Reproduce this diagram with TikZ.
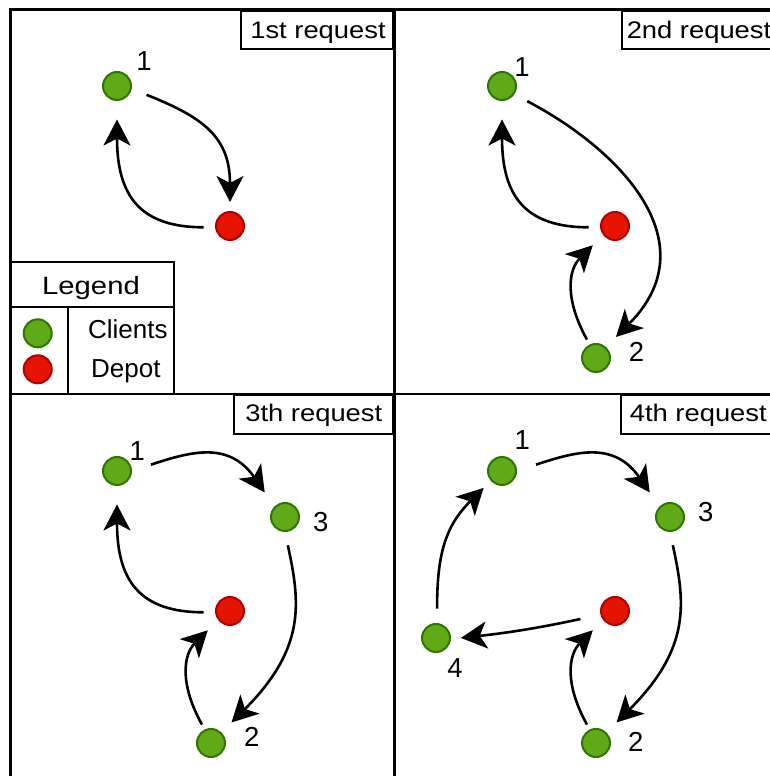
\documentclass[tikz,border=0pt]{standalone}
\usepackage{fontspec}
\setmainfont{Liberation Sans}
\newfontfamily\widesans[FakeStretch=1.14]{Liberation Sans}
\newfontfamily\widersans[FakeStretch=1.17]{Liberation Sans}
\usetikzlibrary{arrows.meta}

\definecolor{clientfill}{HTML}{60A917}
\definecolor{clientline}{HTML}{2D7600}
\definecolor{depotfill}{HTML}{E51400}
\definecolor{depotline}{HTML}{B20000}

\tikzset{
  client/.style={circle, fill=clientfill, draw=clientline, line width=2pt,
    minimum size=28pt, inner sep=0pt},
  depot/.style={circle, fill=depotfill, draw=depotline, line width=2pt,
    minimum size=28pt, inner sep=0pt},
  num/.style={font=\fontsize{27.5}{30}\selectfont, inner sep=0pt},
  panel/.style={draw=black, line width=2.5pt},
  titlebox/.style={draw=black, fill=white, line width=2.2pt, inner sep=0pt},
  titletext/.style={font=\widesans\fontsize{24}{28}\selectfont, inner sep=0pt, anchor=base},
  legendtext/.style={font=\fontsize{26}{30}\selectfont, inner sep=0pt, anchor=base},
  legendline/.style={draw=black, line width=2.2pt},
  tipshape/.tip={Stealth[length=26pt 0, width=27pt 0, inset=7pt 0]},
  route/.style={line width=2.6pt, -tipshape},
}

\begin{document}
\begin{tikzpicture}[x=1pt, y=1pt]
\useasboundingbox (0,0) rectangle (770,776);
\clip (0,0) rectangle (770,776);

% four panels
\path[panel] (10.5,382) rectangle (394.5,766.5);
\path[panel] (394.5,382) rectangle (790,766.5);
\path[panel] (10.5,-10) rectangle (394.5,382);
\path[panel] (394.5,-10) rectangle (790,382);

% panel titles
\node[titlebox, minimum width=152.5pt, minimum height=38.5pt, anchor=north east] (t1) at (394.5,766.5) {};
\node[titletext] (t1txt) at (318,737.7) {1st request};
\node[titlebox, minimum width=157pt, minimum height=38.5pt, anchor=north west] (t2) at (620.7,766.5) {};
\node[titletext] (t2txt) at (699,737.7) {2nd request};
\node[titlebox, minimum width=159.5pt, minimum height=39.3pt, anchor=north east] (t3) at (394.5,382) {};
\node[titletext] (t3txt) at (313.8,354.3) {3th request};
\node[titlebox, minimum width=160pt, minimum height=39.3pt, anchor=north west] (t4) at (620,382) {};
\node[titletext] (t4txt) at (698.3,354.3) {4th request};

% legend
\path[legendline, fill=white] (10.5,469.3) rectangle (174,514.3);
\path[legendline, fill=white] (10.5,382) rectangle (174,469.3);
\path[legendline] (68.3,469.3) -- (68.3,382);
\node[legendtext, font=\widersans\fontsize{25}{30}\selectfont] (lgtitle) at (91,481.7) {Legend};
\node[client] (lgclient) at (37.7,442.7) {};
\node[depot] (lgdepot) at (37.7,406.7) {};
\node[legendtext] (lgclienttxt) at (127.8,437.7) {Clients};
\node[legendtext] (lgdepottxt) at (125.8,398.3) {Depot};

% ---------- 1st request ----------
\node[client] (a1) at (117,690) {};
\node[depot]  (ad) at (230,550) {};
\node[num] (a1l) at (144,715) {1};
\draw[route, shorten <=16pt, shorten >=9pt] (a1.-11) .. controls +(70,-28) and +(0,75) .. (ad.90);
\draw[route, shorten <=11.5pt, shorten >=18.5pt] (ad.185) .. controls +(-75,0) and +(0,-95) .. (a1.-90);

% ---------- 2nd request ----------
\node[client] (b1) at (502,690) {};
\node[depot]  (bd) at (615,550) {};
\node[client] (b2) at (596,418) {};
\node[num] (b1l) at (522,709) {1};
\node[num] (b2l) at (636.5,424) {2};
\draw[route, shorten <=14.5pt, shorten >=14pt] (b1.-34) .. controls +(110,-58) and +(102,102) .. (b2.48);
\draw[route, shorten <=11.5pt, shorten >=18.5pt] (bd.185) .. controls +(-75,0) and +(0,-95) .. (b1.-90);
\draw[route, shorten <=5.5pt, shorten >=14.5pt] (b2.115) .. controls +(-25,45) and +(-35,-35) .. (bd.217);

% ---------- 3rd request ----------
\node[client] (c1) at (117,305) {};
\node[client] (c3) at (285,259) {};
\node[depot]  (cd) at (230,165) {};
\node[client] (c2) at (211,33) {};
\node[num] (c1l) at (137.3,325) {1};
\node[num] (c3l) at (320.7,254) {3};
\node[num] (c2l) at (251.7,39) {2};
\draw[route, shorten <=20pt, shorten >=17pt] (c1.0) .. controls +(60,20) and +(-45,65) .. (c3.135);
\draw[route, shorten <=13.5pt, shorten >=14pt] (c3.-90) .. controls +(15,-70) and +(85,85) .. (c2.45);
\draw[route, shorten <=5.5pt, shorten >=14.5pt] (c2.115) .. controls +(-25,45) and +(-35,-35) .. (cd.217);
\draw[route, shorten <=11.5pt, shorten >=18.5pt] (cd.185) .. controls +(-75,0) and +(0,-95) .. (c1.-90);

% ---------- 4th request ----------
\node[client] (d1) at (502,305) {};
\node[client] (d3) at (670,259) {};
\node[depot]  (dd) at (615,165) {};
\node[client] (d2) at (596,33) {};
\node[client] (d4) at (436,138) {};
\node[num] (d1l) at (522.3,336) {1};
\node[num] (d3l) at (705.7,264) {3};
\node[num] (d2l) at (635.7,34) {2};
\node[num] (d4l) at (455,108) {4};
\draw[route, shorten <=20pt, shorten >=17pt] (d1.0) .. controls +(60,20) and +(-45,65) .. (d3.135);
\draw[route, shorten <=13.5pt, shorten >=14pt] (d3.-90) .. controls +(15,-70) and +(85,85) .. (d2.45);
\draw[route, shorten <=5.5pt, shorten >=14.5pt] (d2.115) .. controls +(-25,45) and +(-35,-35) .. (dd.217);
\draw[route, shorten <=20.5pt, shorten >=10pt] (dd.194) to[bend left=3] (d4.-4);
\draw[route, shorten <=14.5pt, shorten >=10pt] (d4.86) .. controls +(0,70) and +(-45,-45) .. (d1.221);
\end{tikzpicture}
\end{document}
